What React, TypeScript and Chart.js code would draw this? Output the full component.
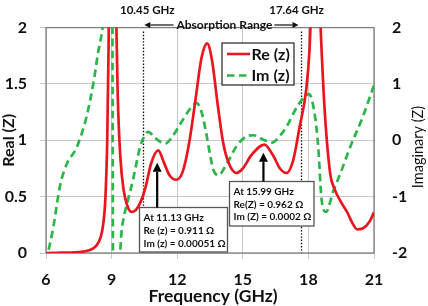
import React, { useEffect, useRef } from "react";
import { Chart, registerables } from "chart.js";

Chart.register(...registerables);

// Real part of the input impedance (left axis)
const reFreq = [
  6.0, 6.5, 7.0, 7.5, 7.8, 8.1, 8.3, 8.5, 8.62, 8.72, 8.8, 8.86, 8.93, 9.02, 9.12, 9.2, 9.28, 9.4, 9.55, 9.7,
  9.9, 10.1, 10.3, 10.55, 10.8, 11.13, 11.4, 11.65, 11.95, 12.25, 12.55, 12.85, 13.1, 13.37, 13.6, 13.85, 14.1,
  14.35, 14.7, 15.0, 15.4, 15.99, 16.4, 16.7, 17.0, 17.3, 17.6, 17.9, 18.05, 18.15, 18.32, 18.48, 18.58, 18.76,
  19.0, 19.17, 19.5, 19.78, 20.0, 20.23, 20.5, 20.8, 21.0,
];
const reValues = [
  0, 0.002, 0.004, 0.008, 0.015, 0.035, 0.065, 0.14, 0.26, 0.5, 1.0, 1.8, 3.2, 4.2, 3.4, 2.2, 1.4, 0.85, 0.56, 0.43,
  0.365, 0.38, 0.44, 0.58, 0.79, 0.911, 0.8, 0.69, 0.65, 0.72, 0.98, 1.38, 1.72, 1.86, 1.7, 1.32, 0.98,
  0.8, 0.71, 0.75, 0.87, 0.962, 0.86, 0.75, 0.71, 0.82, 1.12, 1.45, 1.8, 2.3, 3.0, 2.4, 1.9, 1.22,
  0.7, 0.58, 0.45, 0.36, 0.27, 0.21, 0.22, 0.28, 0.36,
];

// Imaginary part of the input impedance (right axis)
const imFreq = [
  6.0, 6.1, 6.33, 6.64, 6.95, 7.4, 7.86, 8.16, 8.39, 8.59, 8.75, 8.88, 8.98, 9.03, 9.07, 9.14, 9.28, 9.36, 9.45,
  9.53, 9.69, 9.99, 10.15, 10.3, 10.45, 10.68, 10.9, 11.13, 11.44, 11.8, 12.28, 12.6, 12.89, 13.1, 13.3, 13.5,
  13.65, 13.88, 14.26, 14.72, 15.18, 15.5, 15.99, 16.35, 16.7, 17.03, 17.49, 18.03, 18.3, 18.45, 18.6, 18.8,
  19.14, 19.5, 19.9, 20.5, 21.0,
];
const imValues = [
  -2.15, -1.98, -1.55, -0.81, -0.42, -0.13, 0.43, 1.0, 1.57, 2.0, 2.6, 3.6, 5.5, 3.0, -3.0, -5.5, -3.5, -2.3, -1.65,
  -1.42, -1.15, -0.68, -0.38, -0.12, 0.04, 0.15, 0.08, 0.00051, -0.06, 0.08, 0.38, 0.56, 0.66, 0.52, 0.18, -0.25,
  -0.52, -0.62, -0.42, -0.1, 0.07, 0.09, 0.0002, -0.04, 0.08, 0.26, 0.6, 0.82, 0.43, -0.12, -1.04, -1.27,
  -0.9, -0.55, -0.13, 0.43, 0.98,
];

const freqTicks = [6, 9, 12, 15, 18, 21];
const reTicks = [0, 0.5, 1, 1.5, 2];
const imTicks = [-2, -1, 0, 1, 2];

// Edges of the absorption band (GHz)
const bandEdges = [10.45, 17.64];

// Marked resonances: frequency, Re, Im
const markFreq = [11.13, 15.99];
const markRe = [0.911, 0.962];
const markIm = ["0.00051", "0.0002"];

const FONT = "Lato, 'Open Sans', sans-serif";
const RED = "#e8161f";
const GREEN = "#2cb54a";

function filledArrow(ctx: CanvasRenderingContext2D, x1: number, y1: number, x2: number, y2: number, len: number, half: number, width: number) {
  const ang = Math.atan2(y2 - y1, x2 - x1);
  const bx = x2 - Math.cos(ang) * len;
  const by = y2 - Math.sin(ang) * len;
  ctx.save();
  ctx.lineWidth = width;
  ctx.beginPath();
  ctx.moveTo(x1, y1);
  ctx.lineTo(bx, by);
  ctx.stroke();
  ctx.beginPath();
  ctx.moveTo(x2, y2);
  ctx.lineTo(bx + Math.sin(ang) * half, by - Math.cos(ang) * half);
  ctx.lineTo(bx - Math.sin(ang) * half, by + Math.cos(ang) * half);
  ctx.closePath();
  ctx.fill();
  ctx.restore();
}

const decor = {
  id: "decor",
  beforeDatasetsDraw(chart: any) {
    const { ctx, chartArea: a, scales } = chart;
    ctx.save();
    // dotted band edges
    ctx.strokeStyle = "#000";
    ctx.lineWidth = 1.3;
    ctx.setLineDash([1.4, 1.8]);
    for (const f of bandEdges) {
      const x = Math.round(scales.x.getPixelForValue(f)) + 0.5;
      ctx.beginPath();
      ctx.moveTo(x, a.top + 4);
      ctx.lineTo(x, a.bottom);
      ctx.stroke();
    }
    ctx.setLineDash([]);
    // plot frame
    ctx.strokeStyle = "#7f7f7f";
    ctx.lineWidth = 1.3;
    ctx.strokeRect(a.left, a.top, a.right - a.left, a.bottom - a.top);
    ctx.restore();
  },
  afterDraw(chart: any) {
    const { ctx, chartArea: a, scales } = chart;
    const xs = scales.x;
    const ys = scales.y;
    ctx.save();
    ctx.fillStyle = "#111";
    ctx.strokeStyle = "#111";

    // band edge labels and range arrow
    const xL = xs.getPixelForValue(bandEdges[0]);
    const xR = xs.getPixelForValue(bandEdges[1]);
    ctx.font = `bold 11.5px ${FONT}`;
    ctx.textAlign = "center";
    ctx.textBaseline = "middle";
    ctx.fillText(`${bandEdges[0].toFixed(2)} GHz`, xL + 4, 10);
    ctx.fillText(`${bandEdges[1].toFixed(2)} GHz`, xR - 4, 10);
    const label = "Absorption Range";
    ctx.font = `bold 12px ${FONT}`;
    const mid = (xL + xR) / 2 + 2.5;
    const tw = ctx.measureText(label).width;
    ctx.fillText(label, mid, 25.5);
    filledArrow(ctx, mid - tw / 2 - 3, 25, xL + 1, 25, 6, 3, 1.2);
    filledArrow(ctx, mid + tw / 2 + 2, 25, xR - 2, 25, 6, 3, 1.2);

    // annotation boxes
    const boxes = [
      { l: 139.5, t: 207.5, r: 227.5, b: 252, rows: [217.5, 231, 243.5], lab: ["Re (z)", "Im (z)"], tip: 0.8 },
      { l: 229.5, t: 181.5, r: 314, b: 226, rows: [192, 204.5, 216.5], lab: ["Re(Z)", "Im (Z)"], tip: 0.89 },
    ];
    boxes.forEach((bx, i) => {
      ctx.fillStyle = "#fff";
      ctx.fillRect(bx.l, bx.t, bx.r - bx.l, bx.b - bx.t);
      ctx.strokeStyle = "#555";
      ctx.lineWidth = 1.3;
      ctx.strokeRect(bx.l, bx.t, bx.r - bx.l, bx.b - bx.t);
      ctx.fillStyle = "#111";
      ctx.font = `bold 10px ${FONT}`;
      ctx.textAlign = "left";
      ctx.textBaseline = "middle";
      const tx = bx.l + 4;
      ctx.fillText(`At ${markFreq[i].toFixed(2)} GHz`, tx, bx.rows[0]);
      ctx.fillText(`${bx.lab[0]} = ${markRe[i].toFixed(3)} Ω`, tx, bx.rows[1]);
      ctx.fillText(`${bx.lab[1]} = ${markIm[i]} Ω`, tx, bx.rows[2]);
      // pointer to the resonance
      const ax = xs.getPixelForValue(markFreq[i]) - 1;
      ctx.strokeStyle = "#000";
      ctx.fillStyle = "#000";
      filledArrow(ctx, ax, bx.t, ax, ys.getPixelForValue(bx.tip), 9, 4.5, 2.2);
    });

    // legend
    const lg = { l: 222, t: 43, r: 294, b: 85 };
    ctx.fillStyle = "#fff";
    ctx.fillRect(lg.l, lg.t, lg.r - lg.l, lg.b - lg.t);
    ctx.strokeStyle = "#333";
    ctx.lineWidth = 1.3;
    ctx.strokeRect(lg.l, lg.t, lg.r - lg.l, lg.b - lg.t);
    const items = chart.data.datasets;
    [54, 75.5].forEach((y, i) => {
      const ds = items[i];
      ctx.strokeStyle = ds.borderColor;
      ctx.lineWidth = 2.6;
      ctx.setLineDash(ds.borderDash || []);
      ctx.beginPath();
      ctx.moveTo(227, y);
      ctx.lineTo(250, y);
      ctx.stroke();
      ctx.setLineDash([]);
      ctx.fillStyle = "#111";
      ctx.font = `bold 16px ${FONT}`;
      ctx.textAlign = "left";
      ctx.textBaseline = "middle";
      ctx.fillText(ds.label, 251.5, y + 0.5);
    });

    // axis titles
    ctx.fillStyle = "#111";
    ctx.textAlign = "center";
    ctx.textBaseline = "middle";
    ctx.font = `bold 17.5px ${FONT}`;
    ctx.fillText("Frequency (GHz)", 213, 296.5);
    ctx.save();
    ctx.translate(8.5, (a.top + a.bottom) / 2);
    ctx.rotate(-Math.PI / 2);
    ctx.font = `bold 16px ${FONT}`;
    ctx.fillText("Real (Z)", 0, 0);
    ctx.restore();
    ctx.save();
    ctx.translate(418, 147);
    ctx.rotate(-Math.PI / 2);
    ctx.font = `14.5px ${FONT}`;
    ctx.fillText("Imaginary (Z)", 0, 0);
    ctx.restore();

    ctx.restore();
  },
};

const tickFont = { family: FONT, size: 16, weight: "bold" as const };

export default function App() {
  const ref = useRef<HTMLCanvasElement>(null);

  useEffect(() => {
    document.body.style.margin = "0";
    const canvas = ref.current;
    if (!canvas) return;
    const chart = new Chart(canvas, {
      type: "line",
      data: {
        datasets: [
          {
            label: "Re (z)",
            data: reFreq.map((f, i) => ({ x: f, y: reValues[i] })),
            yAxisID: "y",
            borderColor: RED,
            borderWidth: 2.7,
            pointRadius: 0,
            cubicInterpolationMode: "monotone",
          },
          {
            label: "Im (z)",
            data: imFreq.map((f, i) => ({ x: f, y: imValues[i] })),
            yAxisID: "y2",
            borderColor: GREEN,
            borderWidth: 2.7,
            borderDash: [7.5, 4.5],
            pointRadius: 0,
            cubicInterpolationMode: "monotone",
          },
        ],
      },
      options: {
        responsive: false,
        animation: false,
        events: [],
        layout: { padding: { top: 18, left: 0, right: 0, bottom: 0 } },
        plugins: { legend: { display: false }, tooltip: { enabled: false } },
        scales: {
          x: {
            type: "linear",
            min: 6,
            max: 21,
            afterBuildTicks: (s: any) => {
              s.ticks = freqTicks.map((v) => ({ value: v }));
            },
            afterFit: (s: any) => {
              s.height = 53;
            },
            grid: { color: "#c9c9c9", lineWidth: 1, tickLength: 6, drawTicks: true },
            border: { display: false },
            ticks: { font: tickFont, color: "#111", padding: 11, maxRotation: 0, autoSkip: false, callback: (v: any) => String(v) },
          },
          y: {
            position: "left",
            min: 0,
            max: 2,
            afterBuildTicks: (s: any) => {
              s.ticks = reTicks.map((v) => ({ value: v }));
            },
            afterFit: (s: any) => {
              s.width = 46;
            },
            grid: { color: "#c9c9c9", lineWidth: 1, tickLength: 6, drawTicks: true },
            border: { display: false },
            ticks: { font: tickFont, color: "#111", padding: 13, callback: (v: any) => String(v) },
          },
          y2: {
            position: "right",
            min: -2,
            max: 2,
            afterBuildTicks: (s: any) => {
              s.ticks = imTicks.map((v) => ({ value: v }));
            },
            afterFit: (s: any) => {
              s.width = 54;
            },
            grid: { drawOnChartArea: false, drawTicks: false },
            border: { display: false },
            ticks: { font: tickFont, color: "#111", padding: 18, callback: (v: any) => String(v) },
          },
        },
      },
      plugins: [decor],
    });
    return () => chart.destroy();
  }, []);

  return (
    <div style={{ width: 428, height: 306, background: "#fff" }}>
      <canvas ref={ref} width={428} height={306} style={{ display: "block" }} />
    </div>
  );
}
